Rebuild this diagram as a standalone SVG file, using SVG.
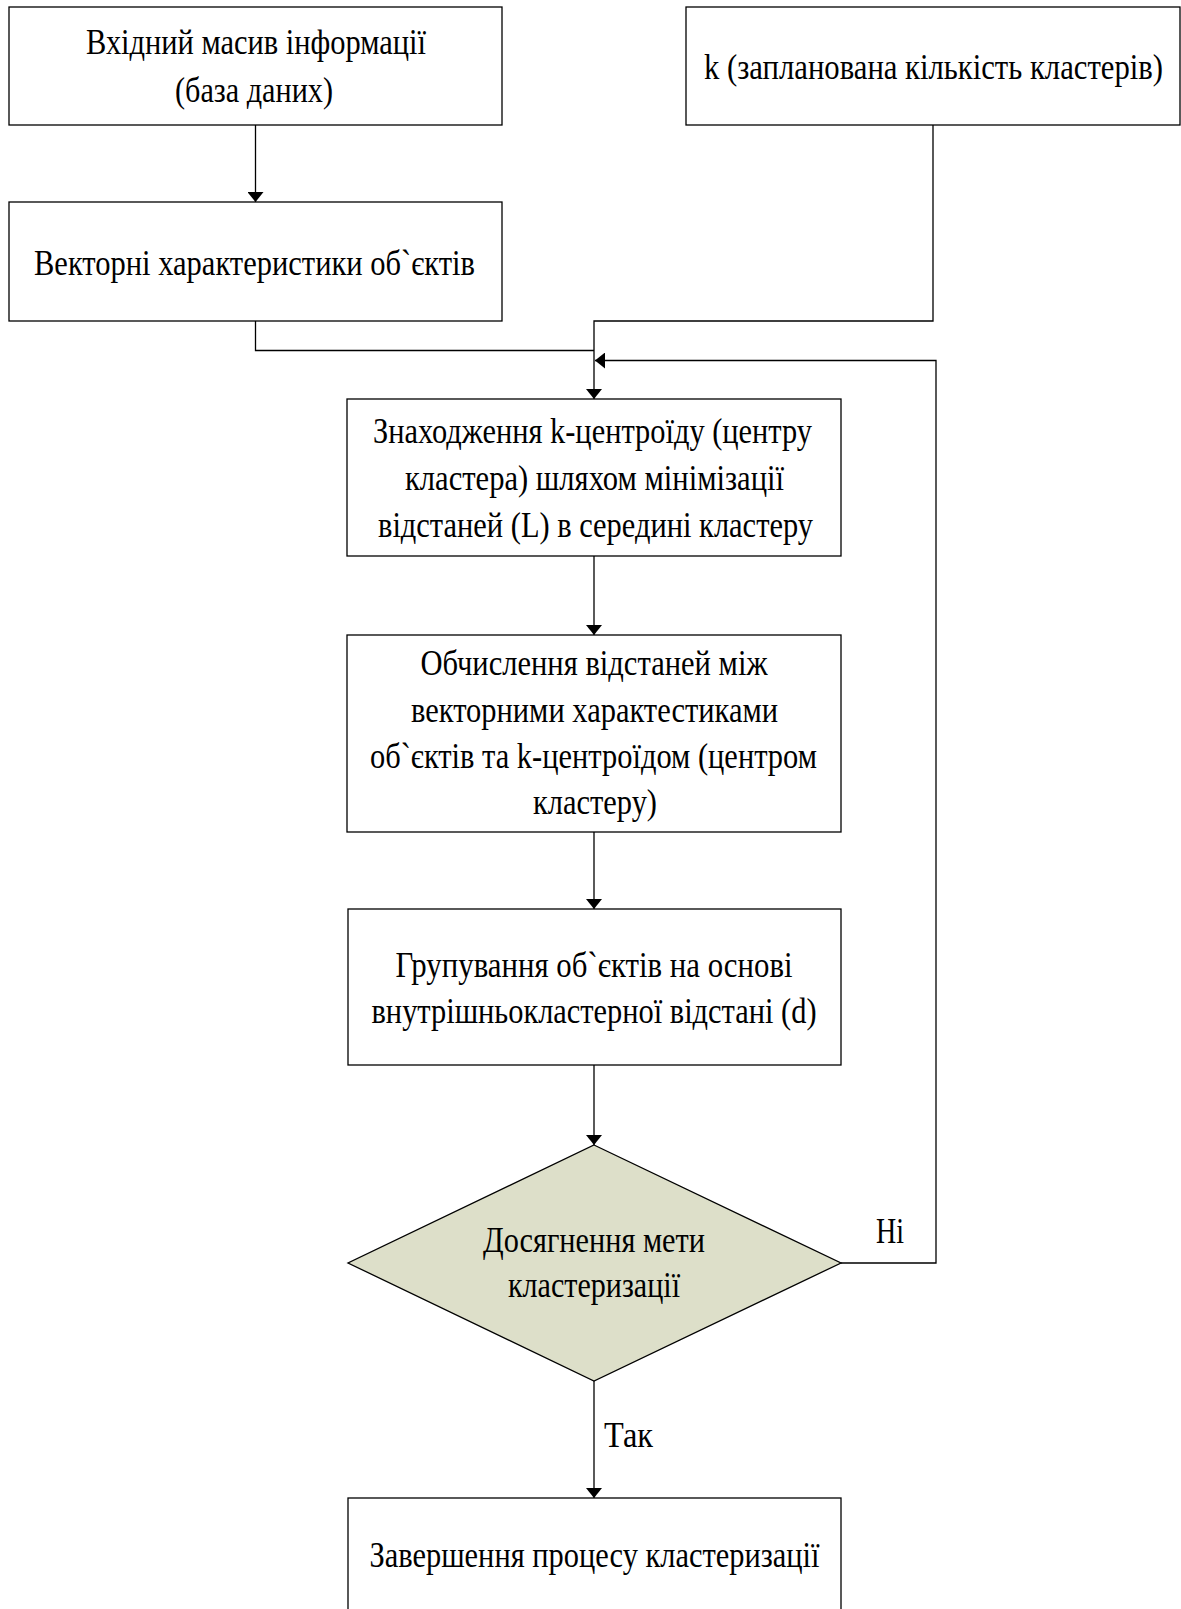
<svg xmlns="http://www.w3.org/2000/svg" width="1181" height="1609" viewBox="0 0 1181 1609">
<style>
.box{fill:#fff;stroke:#000;stroke-width:1.3}
.dia{fill:#DDDFC9;stroke:#000;stroke-width:1.3}
.t{font-family:"Liberation Serif","Times New Roman",serif;font-size:36px;fill:#000;text-anchor:middle}
.l{font-family:"Liberation Serif","Times New Roman",serif;font-size:36px;fill:#000}
.c{fill:none;stroke:#000;stroke-width:1.3}
</style>
<defs>
<marker id="arr" markerUnits="userSpaceOnUse" markerWidth="11" markerHeight="16" refX="10" refY="8" orient="auto">
<path d="M0,0 L10,8 L0,16 z" fill="#000"/>
</marker>
</defs>
<rect width="1181" height="1609" fill="#fff"/>
<g id="connectors">
<path class="c" d="M255.5,125 V202" marker-end="url(#arr)"/>
<path class="c" d="M255.5,321 V350.5 H594"/>
<path class="c" d="M933,125 V321 H594 V399" marker-end="url(#arr)"/>
<path class="c" d="M594,556 V635" marker-end="url(#arr)"/>
<path class="c" d="M594,832 V909" marker-end="url(#arr)"/>
<path class="c" d="M594,1065 V1145" marker-end="url(#arr)"/>
<path class="c" d="M594,1381 V1498" marker-end="url(#arr)"/>
<path class="c" d="M841,1263 H936 V360.5 H595" marker-end="url(#arr)"/>
<text class="l" x="876" y="1243" textLength="28" lengthAdjust="spacingAndGlyphs">Ні</text>
<text class="l" x="604" y="1447" textLength="49" lengthAdjust="spacingAndGlyphs">Так</text>
</g>
<g id="input">
<rect class="box" x="9" y="7" width="493" height="118"/>
<text class="t" x="256" y="54" textLength="340" lengthAdjust="spacingAndGlyphs">Вхідний масив інформації</text>
<text class="t" x="254" y="102" textLength="158" lengthAdjust="spacingAndGlyphs">(база даних)</text>
</g>
<g id="k">
<rect class="box" x="686" y="7" width="494" height="118"/>
<text class="t" x="933.5" y="79" textLength="459" lengthAdjust="spacingAndGlyphs">k (запланована кількість кластерів)</text>
</g>
<g id="vectors">
<rect class="box" x="9" y="202" width="493" height="119"/>
<text class="t" x="254.5" y="275" textLength="441" lengthAdjust="spacingAndGlyphs">Векторні характеристики об`єктів</text>
</g>
<g id="centroid">
<rect class="box" x="347" y="399" width="494" height="157"/>
<text class="t" x="592.5" y="443" textLength="439" lengthAdjust="spacingAndGlyphs">Знаходження k-центроїду (центру</text>
<text class="t" x="594.5" y="490" textLength="379" lengthAdjust="spacingAndGlyphs">кластера) шляхом мінімізації</text>
<text class="t" x="595.5" y="537" textLength="435" lengthAdjust="spacingAndGlyphs">відстаней (L) в середині кластеру</text>
</g>
<g id="distances">
<rect class="box" x="347" y="635" width="494" height="197"/>
<text class="t" x="594" y="675" textLength="347" lengthAdjust="spacingAndGlyphs">Обчислення відстаней між</text>
<text class="t" x="594.5" y="722" textLength="367" lengthAdjust="spacingAndGlyphs">векторними характестиками</text>
<text class="t" x="593.5" y="768" textLength="447" lengthAdjust="spacingAndGlyphs">об`єктів та k-центроїдом (центром</text>
<text class="t" x="595" y="814" textLength="124" lengthAdjust="spacingAndGlyphs">кластеру)</text>
</g>
<g id="grouping">
<rect class="box" x="348" y="909" width="493" height="156"/>
<text class="t" x="594" y="977" textLength="397" lengthAdjust="spacingAndGlyphs">Групування об`єктів на основі</text>
<text class="t" x="594" y="1023" textLength="445" lengthAdjust="spacingAndGlyphs">внутрішньокластерної відстані (d)</text>
</g>
<g id="decision">
<polygon class="dia" points="594,1145 841,1263 594,1381 348,1263"/>
<text class="t" x="594" y="1252" textLength="222" lengthAdjust="spacingAndGlyphs">Досягнення мети</text>
<text class="t" x="594" y="1297" textLength="172" lengthAdjust="spacingAndGlyphs">кластеризації</text>
</g>
<g id="finish">
<rect class="box" x="348" y="1498" width="493" height="130"/>
<text class="t" x="594.5" y="1567" textLength="450" lengthAdjust="spacingAndGlyphs">Завершення процесу кластеризації</text>
</g>
</svg>
